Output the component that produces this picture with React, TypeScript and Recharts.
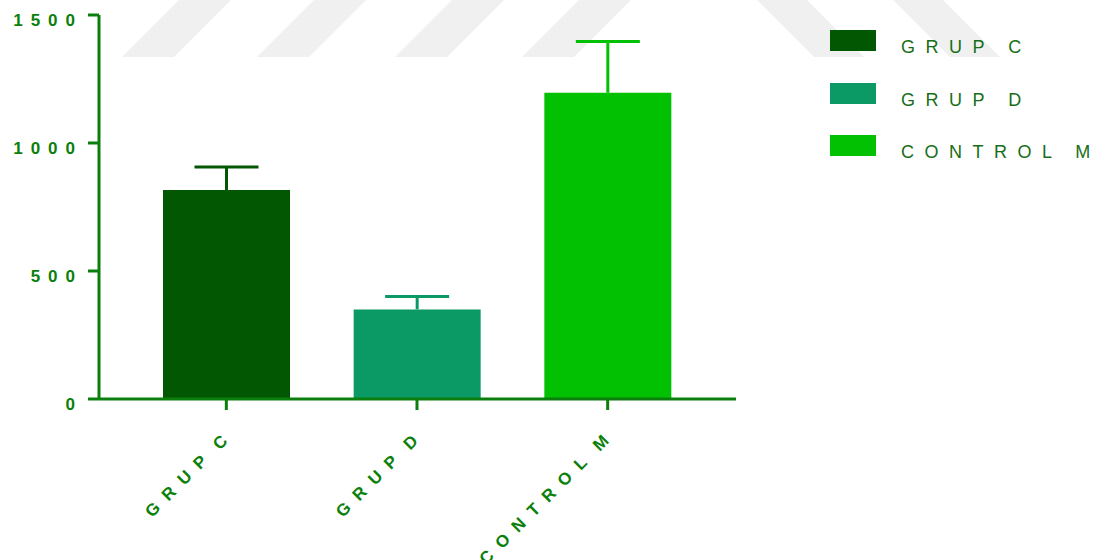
import React from "react";
import { BarChart, Bar, XAxis, YAxis, ErrorBar, Legend } from "recharts";

const categories = ["GRUP C", "GRUP D", "CONTROL M"];
const seriesKeys = ["c", "d", "m"];
const means = [816, 350, 1196];
const errors = [90, 50, 200];
const colors = ["#025802", "#0b9965", "#02c002"];
const yTicks = [0, 500, 1000, 1500];

const AXIS = "#0b7f0b";
const LABEL = "#0b800b";
const LEGEND_TEXT = "#176e17";
const FONT = "Arial, 'Liberation Sans', sans-serif";

const data = categories.map((name, i) => {
  const row: any = { name };
  row[seriesKeys[i]] = means[i];
  row[seriesKeys[i] + "Err"] = [0, errors[i]];
  return row;
});

const YTick = (props: any) => {
  const { x, y, payload } = props;
  return (
    <text
      x={x - 5}
      y={y + 10.5}
      textAnchor="end"
      fill={LABEL}
      fontSize={17}
      fontWeight={700}
      fontFamily={FONT}
      letterSpacing={8}
    >
      {payload.value}
    </text>
  );
};

const XTick = (props: any) => {
  const { x, y, payload } = props;
  const ls = 10;
  const ax = x + 2 + 0.707 * ls;
  const ay = y + 32 - 0.707 * ls;
  return (
    <text
      x={ax}
      y={ay}
      transform={`rotate(-45, ${ax}, ${ay})`}
      textAnchor="end"
      fill={LABEL}
      fontSize={17}
      fontWeight={700}
      fontFamily={FONT}
      letterSpacing={ls}
      style={{ wordSpacing: -8 }}
    >
      {payload.value}
    </text>
  );
};

const LegendContent = (props: any) => {
  const items = [...(props.payload || [])].sort(
    (a: any, b: any) => categories.indexOf(a.value) - categories.indexOf(b.value)
  );
  return (
    <div style={{ position: "relative", width: 272, height: 160 }}>
      {items.map((p: any, i: number) => (
        <div key={i} style={{ position: "absolute", left: 0, top: i * 52.5, height: 30, width: 272 }}>
          <div style={{ position: "absolute", left: 0, top: 0, width: 46, height: 21, background: p.color }} />
          <div
            style={{
              position: "absolute",
              left: 71,
              top: 5,
              fontFamily: FONT,
              fontSize: 18,
              lineHeight: "24px",
              letterSpacing: 10.5,
              wordSpacing: -2,
              color: LEGEND_TEXT,
              whiteSpace: "nowrap",
            }}
          >
            {p.value}
          </div>
        </div>
      ))}
    </div>
  );
};

const Watermark = () => {
  const up = [122, 257, 395, 522];
  const down = [757, 893];
  return (
    <svg width={1102} height={560} style={{ position: "absolute", left: 0, top: 0 }}>
      {up.map((b, i) => (
        <polygon key={"u" + i} points={`${b},57 ${b + 52},57 ${b + 109},0 ${b + 57},0`} fill="#f0f0f0" />
      ))}
      {down.map((t, i) => (
        <polygon key={"d" + i} points={`${t},0 ${t + 50},0 ${t + 107},57 ${t + 57},57`} fill="#f0f0f0" />
      ))}
    </svg>
  );
};

export default function App() {
  return (
    <div style={{ position: "fixed", left: 0, top: 0, width: 1102, height: 560, background: "#fff" }}>
      <style>{`.recharts-errorBar line:nth-of-type(3){display:none}`}</style>
      <Watermark />
      <div style={{ position: "absolute", left: 0, top: 0 }}>
        <BarChart
          width={1102}
          height={560}
          data={data}
          margin={{ top: 15, right: 94, bottom: 0, left: 0 }}
        >
          <XAxis
            dataKey="name"
            height={161}
            padding={{ left: 32, right: 33 }}
            axisLine={{ stroke: AXIS, strokeWidth: 3 }}
            tickLine={{ stroke: AXIS, strokeWidth: 3 }}
            tickSize={11}
            tickMargin={0}
            interval={0}
            tick={<XTick />}
          />
          <YAxis
            width={99}
            domain={[0, 1500]}
            ticks={yTicks}
            axisLine={{ stroke: AXIS, strokeWidth: 3 }}
            tickLine={{ stroke: AXIS, strokeWidth: 3 }}
            tickSize={11}
            tickMargin={0}
            tick={<YTick />}
          />
          <Legend
            layout="horizontal"
            verticalAlign="middle"
            align="right"
            width={272}
            wrapperStyle={{ left: 830, top: 30, width: 272, right: "auto" }}
            content={<LegendContent />}
          />
          {seriesKeys.map((k, i) => (
            <Bar
              key={k}
              dataKey={k}
              name={categories[i]}
              stackId="s"
              fill={colors[i]}
              barSize={127}
              isAnimationActive={false}
              legendType="rect"
            >
              <ErrorBar
                dataKey={k + "Err"}
                width={32}
                strokeWidth={3}
                stroke={colors[i]}
                direction="y"
                isAnimationActive={false}
              />
            </Bar>
          ))}
        </BarChart>
      </div>
    </div>
  );
}
